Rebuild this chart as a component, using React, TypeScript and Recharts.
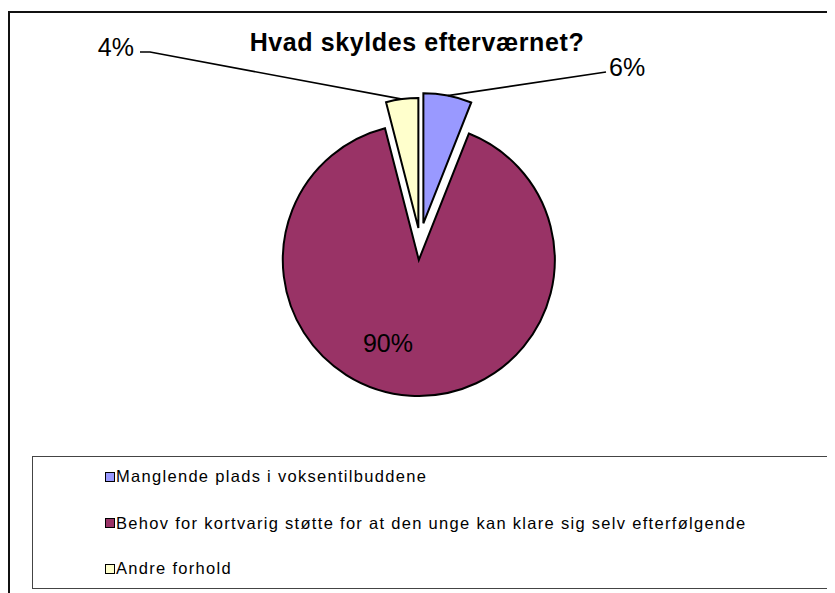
import React from 'react';
import { PieChart, Pie, Cell } from 'recharts';

// Hvad skyldes efterværnet? - andele i procent
const categories = [
  'Manglende plads i voksentilbuddene',
  'Behov for kortvarig støtte for at den unge kan klare sig selv efterfølgende',
  'Andre forhold',
];
const shares = [6, 90, 4];
const colors = ['#9999FF', '#993366', '#FFFFCC'];

const data = categories.map((name, i) => ({ name, value: shares[i] }));

const FONT = '"Liberation Sans", Arial, sans-serif';
const CX = 420;
const CY = 241;
const explode = [18, 19, 13];
const radius = [130, 136, 130];

// where Excel put the data labels (text anchor + leader line bends)
const labelSpots = [
  { x: 609, y: 76, anchor: 'start', line: [[606, 72]] },
  { x: 388, y: 352, anchor: 'middle', line: null },
  { x: 134, y: 56, anchor: 'end', line: [[150, 52], [140, 52]] },
];

const total = shares.reduce((a, b) => a + b, 0);
const midAngles = shares.map((v, i) => {
  const before = shares.slice(0, i).reduce((a, b) => a + b, 0);
  return 90 - (360 * (before + v / 2)) / total;
});

const renderLabel = (slice: number) => (p: any) => {
  if (p.index !== slice) return null;
  const spot = labelSpots[slice];
  const rad = (Math.PI / 180) * p.midAngle;
  const ex = p.cx + p.outerRadius * Math.cos(rad);
  const ey = p.cy - p.outerRadius * Math.sin(rad);
  const pts = spot.line ? [[ex, ey], ...spot.line].map((q) => q.join(',')).join(' ') : '';
  return (
    <g key={`lbl-${slice}`}>
      {spot.line && <polyline points={pts} fill="none" stroke="#000" strokeWidth={1.6} />}
      <text x={spot.x} y={spot.y} textAnchor={spot.anchor as any} fontSize={25} fontFamily={FONT} fill="#000">
        {`${Math.round(p.percent * 100)}%`}
      </text>
    </g>
  );
};

export default function App() {
  return (
    <div style={{ position: 'relative', width: 835, height: 593, fontFamily: FONT }}>
      <div
        style={{
          position: 'absolute', left: 0, top: 3, width: 840, height: 600,
          borderTop: '2px solid #111', borderLeft: '2px solid #111', boxSizing: 'border-box',
        }}
      />
      <div
        style={{
          position: 'absolute', left: 0, top: 20, width: 818, textAlign: 'center',
          fontSize: 25, fontWeight: 'bold', letterSpacing: 0.6, color: '#000',
        }}
      >
        Hvad skyldes efterværnet?
      </div>
      <div style={{ position: 'absolute', left: -8, top: -8 }}>
        <PieChart width={835} height={593} margin={{ top: 0, right: 0, bottom: 0, left: 0 }}>
          {shares.map((_, s) => {
            const rad = (Math.PI / 180) * midAngles[s];
            return (
              <Pie
                key={s}
                data={data}
                dataKey="value"
                nameKey="name"
                cx={CX + explode[s] * Math.cos(rad)}
                cy={CY - explode[s] * Math.sin(rad)}
                outerRadius={radius[s]}
                startAngle={90}
                endAngle={-270}
                label={renderLabel(s)}
                labelLine={false}
                isAnimationActive={false}
              >
                {data.map((d, i) => (
                  <Cell
                    key={d.name}
                    fill={i === s ? colors[i] : 'transparent'}
                    stroke={i === s ? '#000' : 'none'}
                    strokeWidth={2}
                  />
                ))}
              </Pie>
            );
          })}
        </PieChart>
      </div>
      <div
        style={{
          position: 'absolute', left: 24, top: 448, width: 796, height: 133,
          border: '1px solid #444', boxSizing: 'border-box', background: '#fff',
        }}
      >
        {categories.map((c, i) => (
          <div
            key={c}
            style={{
              position: 'absolute', left: 72, top: [9.5, 56, 101.5][i], height: 20,
              display: 'flex', alignItems: 'center', fontSize: 16.5, letterSpacing: 1.3,
              whiteSpace: 'nowrap', color: '#000',
            }}
          >
            <span
              style={{
                display: 'inline-block', width: 10, height: 10, background: colors[i],
                border: '1.5px solid #000', boxSizing: 'border-box', marginRight: 1,
              }}
            />
            {c}
          </div>
        ))}
      </div>
    </div>
  );
}
